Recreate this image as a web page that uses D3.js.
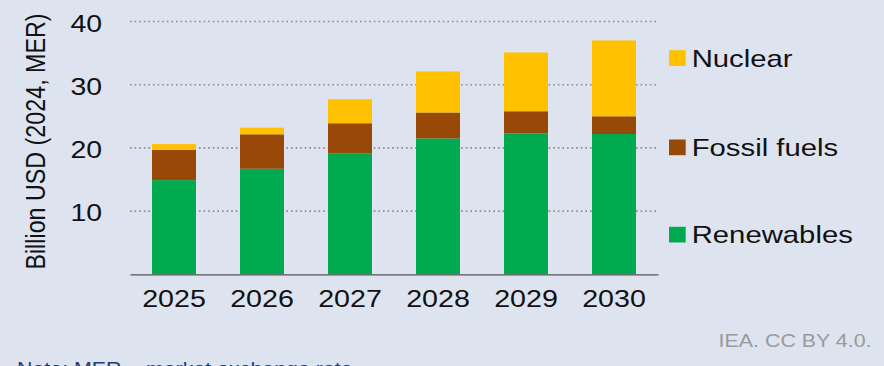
<!DOCTYPE html>
<html>
<head>
<meta charset="utf-8">
<script src="https://cdn.jsdelivr.net/npm/d3@7"></script>
<style>
  body { margin: 0; background: #dde3ef; }
  svg { display: block; font-family: "Liberation Sans", Arial, sans-serif; }
</style>
</head>
<body>
<svg id="chart" width="884" height="366"></svg>
<script>
// values, billion USD
const years = ["2025", "2026", "2027", "2028", "2029", "2030"];
const renewables = [14.9, 16.7, 19.1, 21.5, 22.3, 22.2];
const fossilFuels = [4.8, 5.45, 4.8, 4.1, 3.5, 2.8];
const nuclear = [0.9, 1.05, 3.8, 6.5, 9.3, 12.0];
const seriesNames = ["Renewables", "Fossil fuels", "Nuclear"];
const yTicks = [10, 20, 30, 40];

const colors = { "Renewables": "#00ab4f", "Fossil fuels": "#984807", "Nuclear": "#ffc000" };

// the source picture is a bit wider than tall, so text gets stretched sideways
const stretch = 1.22;

const svg = d3.select("#chart");

// build rows for d3.stack
const rows = years.map((y, i) => ({
  year: y,
  "Renewables": renewables[i],
  "Fossil fuels": fossilFuels[i],
  "Nuclear": nuclear[i]
}));

const x = d3.scaleBand()
  .domain(years)
  .range([130, 658])
  .paddingInner(0.5)
  .paddingOuter(0.25);

const y = d3.scaleLinear()
  .domain([0, 40])
  .range([274.3, 21.5]);

// gridlines
svg.append("g")
  .selectAll("line")
  .data(yTicks)
  .join("line")
  .attr("x1", 130)
  .attr("x2", 658)
  .attr("y1", d => y(d))
  .attr("y2", d => y(d))
  .attr("stroke", "#8c8c8c")
  .attr("stroke-width", 1.6)
  .attr("stroke-dasharray", "1.6,3");

const stack = d3.stack().keys(seriesNames);
const layers = stack(rows);

svg.append("g")
  .selectAll("g")
  .data(layers)
  .join("g")
  .attr("fill", d => colors[d.key])
  .selectAll("rect")
  .data(d => d)
  .join("rect")
  .attr("x", d => x(d.data.year))
  .attr("width", x.bandwidth())
  .attr("y", d => y(d[1]))
  .attr("height", d => y(d[0]) - y(d[1]));

// x axis
const xAxis = svg.append("g")
  .attr("transform", `translate(0,${y(0)})`)
  .call(d3.axisBottom(x).tickSize(0).tickPadding(15.7));
xAxis.select(".domain").attr("stroke", "#555").attr("stroke-width", 1.3);
xAxis.selectAll("text")
  .attr("font-size", 23.5)
  .attr("fill", "#111")
  .attr("font-family", "Liberation Sans, Arial, sans-serif")
  .attr("transform", `scale(${stretch},1)`);

// y axis labels only
const yAxis = svg.append("g")
  .attr("transform", "translate(102,0)")
  .call(d3.axisLeft(y).tickValues(yTicks).tickSize(0).tickPadding(0));
yAxis.select(".domain").remove();
yAxis.selectAll("text")
  .attr("font-size", 23.3)
  .attr("dy", "0.41em")
  .attr("fill", "#111")
  .attr("font-family", "Liberation Sans, Arial, sans-serif")
  .attr("transform", `scale(${stretch},1)`);

svg.append("text")
  .attr("transform", `translate(45,141.5) scale(${stretch},1) rotate(-90)`)
  .attr("text-anchor", "middle")
  .attr("font-size", 23.3)
  .attr("fill", "#111")
  .text("Billion USD (2024, MER)");

// legend
const legendItems = ["Nuclear", "Fossil fuels", "Renewables"];
const legendY = [66.7, 156, 243.3];
const legend = svg.append("g")
  .selectAll("g")
  .data(legendItems)
  .join("g")
  .attr("transform", (d, i) => `translate(669,${legendY[i]})`);
legend.append("rect")
  .attr("y", -16.5)
  .attr("width", 16.7)
  .attr("height", 15.7)
  .attr("fill", d => colors[d]);
legend.append("text")
  .attr("transform", `translate(22.7,0) scale(${stretch},1)`)
  .attr("font-size", 24)
  .attr("fill", "#111")
  .text(d => d);

svg.append("text")
  .attr("transform", "translate(871.5,346.7) scale(1.15,1)")
  .attr("text-anchor", "end")
  .attr("font-size", 18.6)
  .attr("fill", "#9a9a9a")
  .text("IEA. CC BY 4.0.");

svg.append("text")
  .attr("transform", "translate(17,375) scale(1.15,1)")
  .attr("font-size", 18.6)
  .attr("fill", "#1f3f6f")
  .text("Note: MER = market exchange rate.");
</script>
</body>
</html>
